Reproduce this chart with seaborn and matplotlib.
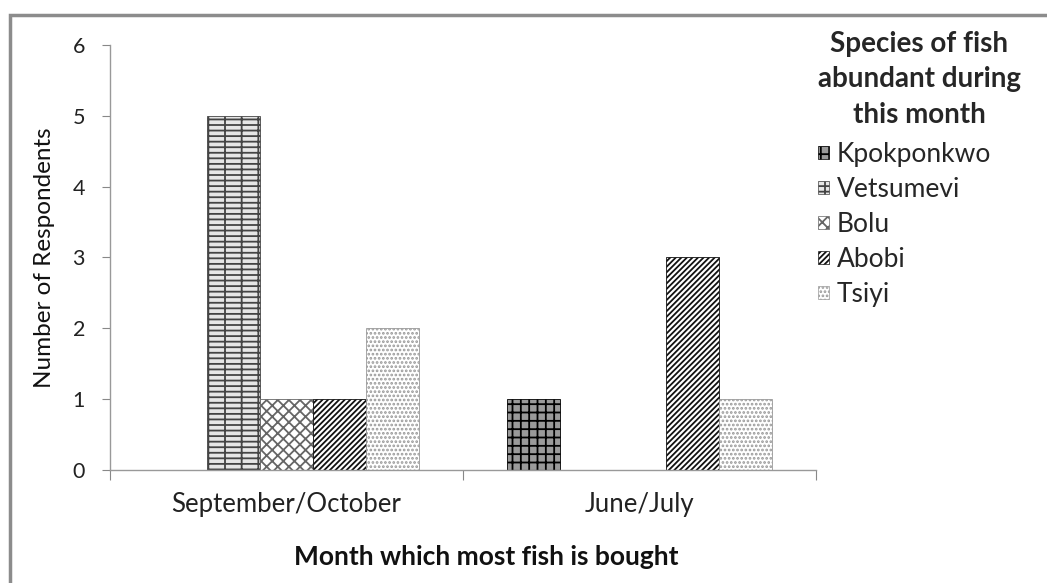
import matplotlib
matplotlib.use("Agg")
import matplotlib.pyplot as plt
import matplotlib.patches as mpatches
import seaborn as sns
import pandas as pd

months = ["September/October", "June/July"]
species = ["Kpokponkwo", "Vetsumevi", "Bolu", "Abobi", "Tsiyi"]
kpokponkwo = [0, 1]
vetsumevi = [5, 0]
bolu = [1, 0]
abobi = [1, 3]
tsiyi = [2, 1]

values = [kpokponkwo, vetsumevi, bolu, abobi, tsiyi]
rows = []
for sp, vals in zip(species, values):
    for m, v in zip(months, vals):
        rows.append({"Month": m, "Species": sp, "Count": v})
df = pd.DataFrame(rows)

sns.set_theme(style="white")
plt.rcParams["font.family"] = ["Lato", "DejaVu Sans"]
plt.rcParams["hatch.linewidth"] = 1.3

fig = plt.figure(figsize=(10.47, 5.83), dpi=100)
ax = fig.add_axes([0.105, 0.194, 0.674, 0.729])

sns.barplot(data=df, x="Month", y="Count", hue="Species", order=months,
            hue_order=species, width=0.75, ax=ax, legend=False,
            palette=["white"] * 5, edgecolor="#555555", linewidth=0.6)

styles = {
    "Kpokponkwo": dict(hatch="++", face="#9a9a9a", edge="#000000"),
    "Vetsumevi": dict(hatch="---|", face="#e6e6e6", edge="#444444"),
    "Bolu": dict(hatch="xxx", face="white", edge="#666666"),
    "Abobi": dict(hatch="//////", face="white", edge="#111111"),
    "Tsiyi": dict(hatch="....", face="white", edge="#999999"),
}

for cont, sp in zip(ax.containers, species):
    st = styles[sp]
    for bar in cont:
        bar.set_facecolor(st["face"])
        bar.set_hatch(st["hatch"])
        bar.set_edgecolor(st["edge"])

ax.set_xlim(-0.5, 1.5)
ax.set_ylim(0, 6)
ax.set_yticks(range(0, 7))
ax.tick_params(axis="y", labelsize=15.5, length=6, width=0.8, color="#888888",
               left=True, pad=12, labelcolor="#222222")
ax.set_xticks([0, 1])
ax.set_xticklabels(months)
ax.set_xticks([-0.5, 0.5, 1.5], minor=True)
ax.tick_params(axis="x", which="major", length=0, labelsize=18.5, pad=16,
               labelcolor="#222222")
ax.tick_params(axis="x", which="minor", length=7, width=0.8, color="#888888",
               bottom=True, direction="out")

for s in ["top", "right"]:
    ax.spines[s].set_visible(False)
for s in ["left", "bottom"]:
    ax.spines[s].set_color("#999999")
    ax.spines[s].set_linewidth(1.0)

ax.set_ylabel("Number of Respondents", fontsize=17.5, color="#111111")
ax.yaxis.set_label_coords(-0.078, 0.5)
ax.set_xlabel("Month which most fish is bought", fontsize=19, fontweight="bold",
              color="#111111")
ax.xaxis.set_label_coords(0.533, -0.176)

handles = []
for sp in species:
    st = styles[sp]
    handles.append(mpatches.Patch(facecolor=st["face"], edgecolor=st["edge"],
                                  hatch=st["hatch"], linewidth=0.5, label=sp))
leg = fig.legend(handles=handles, loc="upper left",
                 bbox_to_anchor=(818 / 1047, 1 - 31 / 583), frameon=False,
                 title="Species of fish\nabundant during\nthis month",
                 fontsize=19, handlelength=0.42, handleheight=0.42,
                 handletextpad=0.3, labelspacing=0.38, borderpad=0,
                 borderaxespad=0, alignment="left")
plt.setp(leg.get_title(), fontsize=20, fontweight="bold", multialignment="center",
         linespacing=1.45)
leg._legend_box.sep = 10

border = mpatches.Rectangle((10 / 1047, -0.1), 1.2, 1 - 15 / 583 + 0.1,
                            transform=fig.transFigure, fill=False,
                            edgecolor="#8c8c8c", linewidth=2.5)
fig.patches.append(border)

fig.savefig("out.png", dpi=100)
